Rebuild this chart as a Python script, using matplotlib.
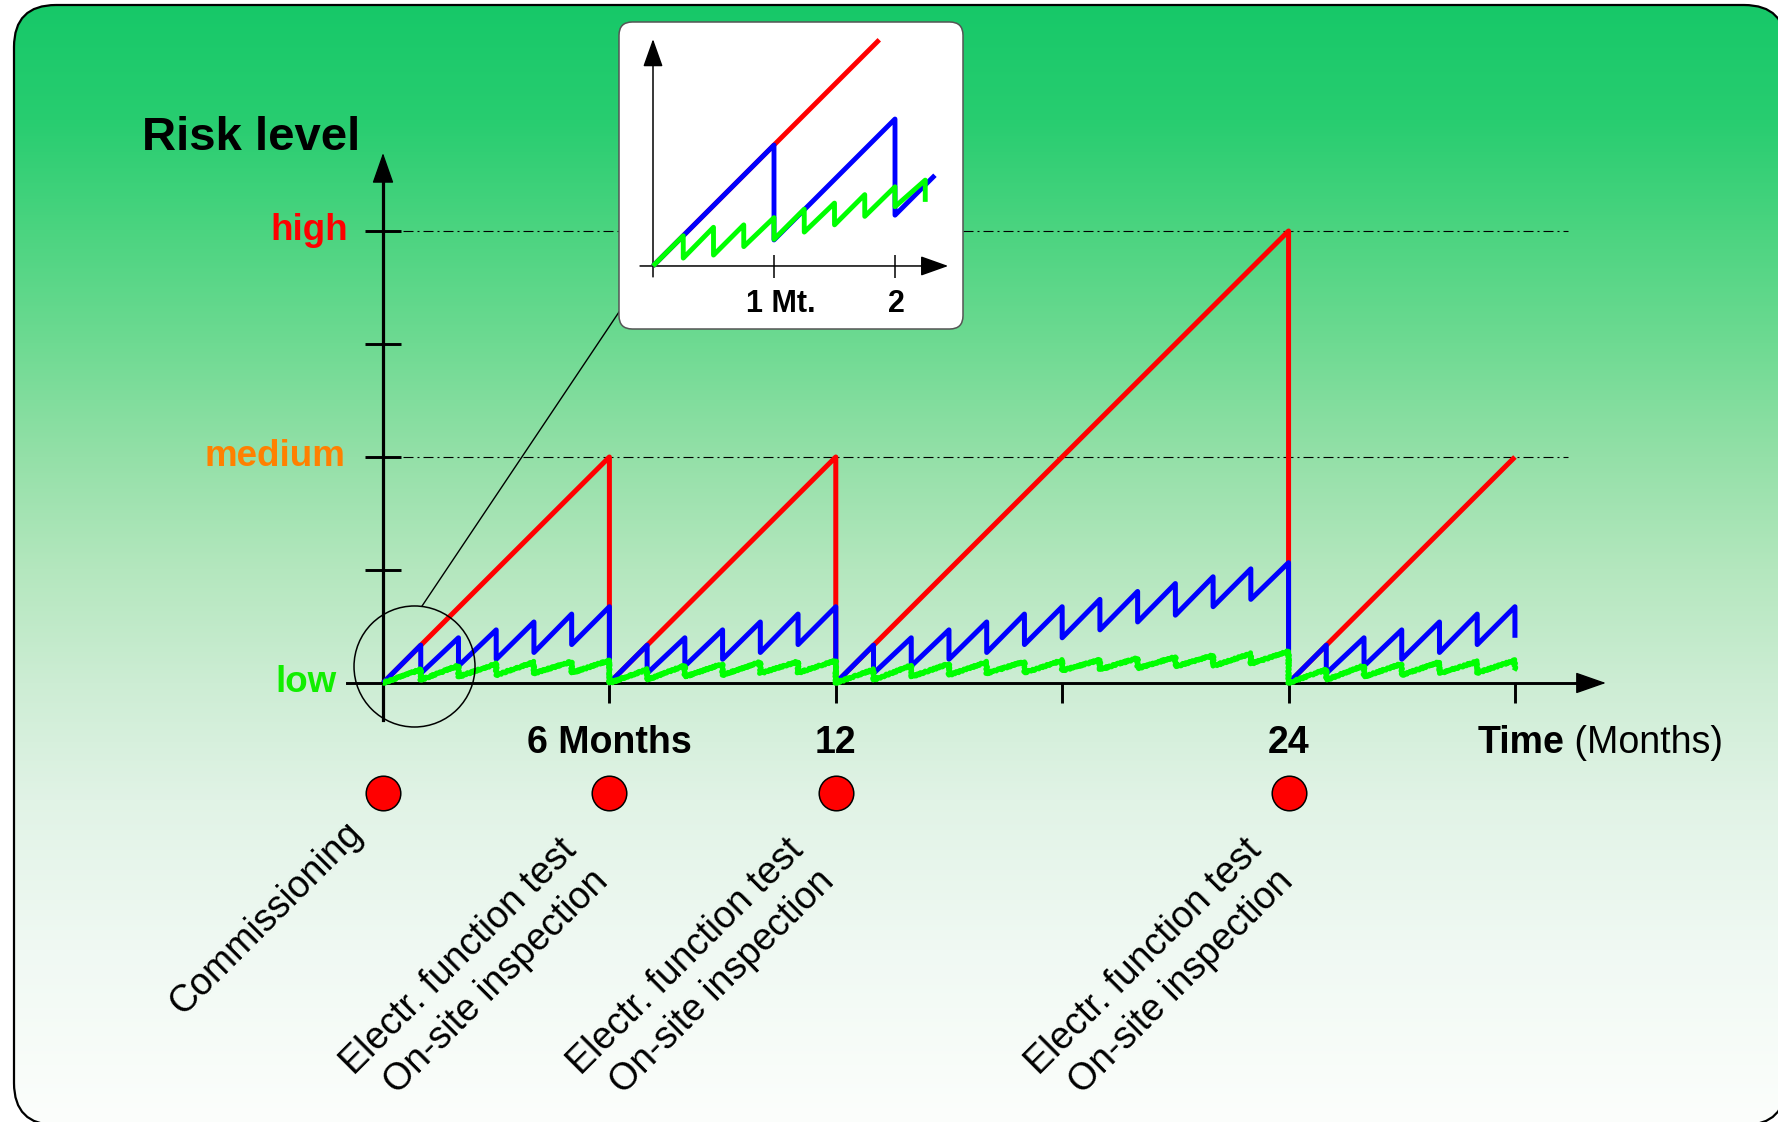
import numpy as np
import matplotlib
matplotlib.use("Agg")
import matplotlib.pyplot as plt
from matplotlib.patches import FancyBboxPatch, Ellipse, BoxStyle, PathPatch
from matplotlib.path import Path
from matplotlib.transforms import Affine2D

plt.rcParams["font.family"] = ["Liberation Sans", "DejaVu Sans"]

# ---------------- data ----------------
risk_levels = [0, 2, 4]
risk_labels = ["low", "medium", "high"]
risk_colors = ["#11ee00", "#ff8000", "#ff0000"]
risk_ticks = [1, 2, 3, 4]

month_ticks = [6, 12, 18, 24, 30]
month_label_pos = [6, 12, 24]
month_labels = ["6 Months", "12", "24"]

inspection_months = [0, 6, 12, 24]
event_labels = [
    "Commissioning",
    "Electr. function test\nOn-site inspection",
    "Electr. function test\nOn-site inspection",
    "Electr. function test\nOn-site inspection",
]
end_month = 30

# risk without monitoring: grows until the next inspection
red_t = [0, 6, 6, 12, 12, 24, 24, 30]
red_v = [0, 2, 0, 2, 0, 4, 0, 2]

# monthly checks: level just before each check and level right after it
blue_peak = [0.335, 0.40, 0.47, 0.54, 0.61, 0.675, 0.74, 0.81, 0.88, 0.94, 1.01, 1.065]
blue_after = [0.085, 0.15, 0.21, 0.27, 0.34, 0.40, 0.47, 0.54, 0.60, 0.675, 0.74]

# continuous monitoring
green_peak = [0.12, 0.155, 0.17, 0.185, 0.19, 0.20, 0.205, 0.22, 0.23, 0.245, 0.26, 0.28]
green_after = [0.027, 0.055, 0.07, 0.085, 0.09, 0.11, 0.12, 0.13, 0.145, 0.15, 0.17]

# detail view of the first two months
inset_red_t = [0, 1.87]
inset_red_v = [0, 1.87]
inset_blue_t = [0, 1, 1, 2, 2, 2.33]
inset_blue_v = [0, 1.0, 0.215, 1.215, 0.42, 0.75]
inset_green_t = [0, 0.25, 0.25, 0.5, 0.5, 0.75, 0.75, 1, 1, 1.25, 1.25,
                 1.5, 1.5, 1.75, 1.75, 2, 2, 2.25, 2.25]
inset_green_v = [0, 0.25, 0.065, 0.32, 0.09, 0.34, 0.16, 0.40, 0.22, 0.47, 0.28,
                 0.52, 0.34, 0.59, 0.41, 0.655, 0.49, 0.71, 0.53]
inset_ticks = [1, 2]
inset_tick_labels = ["1 Mt.", "2"]


def sawtooth(starts, peaks, afters, end):
    """Polyline that restarts at zero at every inspection and drops at each monthly check."""
    t, v = [], []
    bounds = list(starts) + [end]
    for s, e in zip(bounds[:-1], bounds[1:]):
        t.append(s)
        v.append(0.0)
        for k in range(1, e - s + 1):
            t.append(s + k)
            v.append(peaks[k - 1])
            if s + k < e:
                t.append(s + k)
                v.append(afters[k - 1])
    t.append(end)
    v.append(afters[end - bounds[-2] - 1])
    return t, v


blue_t, blue_v = sawtooth(inspection_months, blue_peak, blue_after, end_month)
green_t, green_v = sawtooth(inspection_months, green_peak, green_after, end_month)

# ---------------- figure ----------------
W, H = 1778, 1122
DPI = 100
fig = plt.figure(figsize=(W / DPI, H / DPI), dpi=DPI, facecolor="white")

# pixel coordinates with the origin at the top-left corner
pix = Affine2D().scale(1 / DPI, -1 / DPI).translate(0, H / DPI) + fig.dpi_scale_trans

# background panel with vertical gradient
bg = fig.add_axes([0, 0, 1, 1], zorder=-1)
stops_y = [0, 120, 230, 343, 457, 569, 683, 800, 950, 1122]
stops_rgb = np.array([
    (22, 200, 104), (40, 205, 112), (75, 212, 128), (110, 218, 146),
    (148, 224, 168), (180, 231, 190), (205, 237, 212), (225, 243, 230),
    (240, 249, 243), (252, 254, 252)]) / 255.0
yy = np.arange(H)
grad = np.stack([np.interp(yy, stops_y, stops_rgb[:, c]) for c in range(3)], axis=-1)
im = bg.imshow(grad[:, None, :], extent=(0, W, H, 0), aspect="auto", interpolation="bilinear")
bg.set_xlim(0, W)
bg.set_ylim(H, 0)
bg.axis("off")

# rounded frame, flattened to straight segments so it can run past the canvas edge
rounded = BoxStyle("Round", pad=0, rounding_size=42)(14, 5, 1772, 1120, 1)
frame_poly = rounded.to_polygons(closed_only=True)[0]
frame = PathPatch(Path(frame_poly, closed=True), fc="none", ec="black", lw=1.6,
                  transform=pix, clip_on=False)
fig.add_artist(frame)
im.set_clip_path(frame)

# main chart: months on x, risk units on y
ax = fig.add_axes([0, 0, 1, 1], zorder=1)
ax.patch.set_visible(False)
ax.set_xlim(-10.151, 36.972)
ax.set_ylim(-3.885, 6.044)
for side in ("top", "right"):
    ax.spines[side].set_visible(False)
ax.spines["left"].set_position(("data", 0))
ax.spines["bottom"].set_position(("data", 0))
ax.spines["left"].set_bounds(-0.327, 4.46)
ax.spines["bottom"].set_bounds(-0.954, 31.72)
ax.spines["left"].set_linewidth(2.3)
ax.spines["bottom"].set_linewidth(2.1)
ax.xaxis.set_ticks_position("bottom")
ax.yaxis.set_ticks_position("left")
ax.set_xticks(month_ticks)
ax.set_yticks(risk_ticks)
ax.tick_params(axis="x", direction="out", length=14.4, width=2.1, labelbottom=False)
ax.tick_params(axis="y", direction="inout", length=26, width=2.1, labelleft=False)

arrow_kw = dict(arrowstyle="-|>,head_length=0.97,head_width=0.34", mutation_scale=20,
                color="black", lw=1.0, shrinkA=0, shrinkB=0)
ax.annotate("", xy=(0, 4.69), xytext=(0, 4.40), arrowprops=arrow_kw)
ax.annotate("", xy=(32.41, 0), xytext=(31.6, 0), arrowprops=arrow_kw)

ax.hlines([2, 4], 0.53, 31.4, colors="black", linewidth=0.8,
          linestyles=[(0, (9, 3.6, 1.8, 3.6))], zorder=1)

line_kw = dict(lw=3.6, solid_capstyle="butt")
ax.plot(red_t, red_v, color="#ff0000", zorder=3, **line_kw)
ax.plot(blue_t, blue_v, color="#0000ff", zorder=4, **line_kw)
g_line, = ax.plot(green_t, green_v, color="#00ff00", zorder=5, **line_kw)
g_line.set_sketch_params(scale=0.9, length=4, randomness=2)

# magnifier circle and connector to the detail view
ax.add_patch(Ellipse((0.835, 0.146), 3.207, 1.071, fc="none", ec="black", lw=1.1, zorder=6))
ax.plot([1.034, 6.255], [0.681, 3.283], color="black", lw=1.0, zorder=6)

# labels
ax.text(-6.387, 4.717, "Risk level", fontsize=34, fontweight="bold", ha="left", va="baseline")
for lvl, lab, col, xx in zip(risk_levels, risk_labels, risk_colors, [-1.22, -1.0, -0.93]):
    ax.text(xx, lvl, lab, color=col, fontsize=26.5, fontweight="bold", ha="right", va="center")
for m, lab in zip(month_label_pos, month_labels):
    ax.text(m, -0.62, lab, fontsize=27, fontweight="bold", ha="center", va="baseline")
t_time = ax.text(29.0, -0.62, "Time", fontsize=27, fontweight="bold", ha="left", va="baseline")
ax.annotate(" (Months)", xy=(1, 0), xycoords=t_time, fontsize=27, ha="left", va="bottom")

ax.scatter(inspection_months, [-0.973] * len(inspection_months), s=620, c="#ff0000",
           edgecolors="black", linewidths=1.1, zorder=6, clip_on=False)

label_anchor = [(-0.52, -1.35), (5.85, -1.72), (11.85, -1.72), (24.01, -1.72)]
for (xa, ya), lab in zip(label_anchor, event_labels):
    ax.text(xa, ya, lab, fontsize=27, rotation=45, rotation_mode="anchor",
            ha="right", va="baseline", multialignment="right", linespacing=1.28)

# detail view (first two months)
ax_in = fig.add_axes([619 / W, 1 - 329 / H, 344 / W, 307 / H], zorder=3)
ax_in.set_xlim(-0.281, 2.562)
ax_in.set_ylim(-0.521, 2.017)
ax_in.axis("off")
ax_in.add_patch(FancyBboxPatch((-0.281, -0.521), 2.843, 2.538,
                               boxstyle="round,pad=0,rounding_size=0.11",
                               fc="white", ec="#555555", lw=1.1, clip_on=False, zorder=0))
in_arrow = dict(arrowstyle="-|>,head_length=0.87,head_width=0.31", mutation_scale=20,
                color="black", lw=1.1, shrinkA=0, shrinkB=0)
ax_in.annotate("", xy=(0, 1.876), xytext=(0, -0.09), arrowprops=in_arrow)
ax_in.annotate("", xy=(2.44, 0), xytext=(-0.107, 0), arrowprops=in_arrow)
ax_in.vlines(inset_ticks, -0.1, 0.09, colors="black", lw=1.1)
for tk, lab in zip(inset_ticks, inset_tick_labels):
    ax_in.text(tk + (0.06 if tk == 1 else 0.01), -0.38, lab, fontsize=22,
               fontweight="bold", ha="center", va="baseline")
in_kw = dict(lw=3.5, solid_capstyle="butt")
ax_in.plot(inset_red_t, inset_red_v, color="#ff0000", zorder=3, **in_kw)
ax_in.plot(inset_blue_t, inset_blue_v, color="#0000ff", zorder=4, **in_kw)
ax_in.plot(inset_green_t, inset_green_v, color="#00ff00", zorder=5, **in_kw)

fig.savefig("out.png", dpi=DPI, facecolor="white")
